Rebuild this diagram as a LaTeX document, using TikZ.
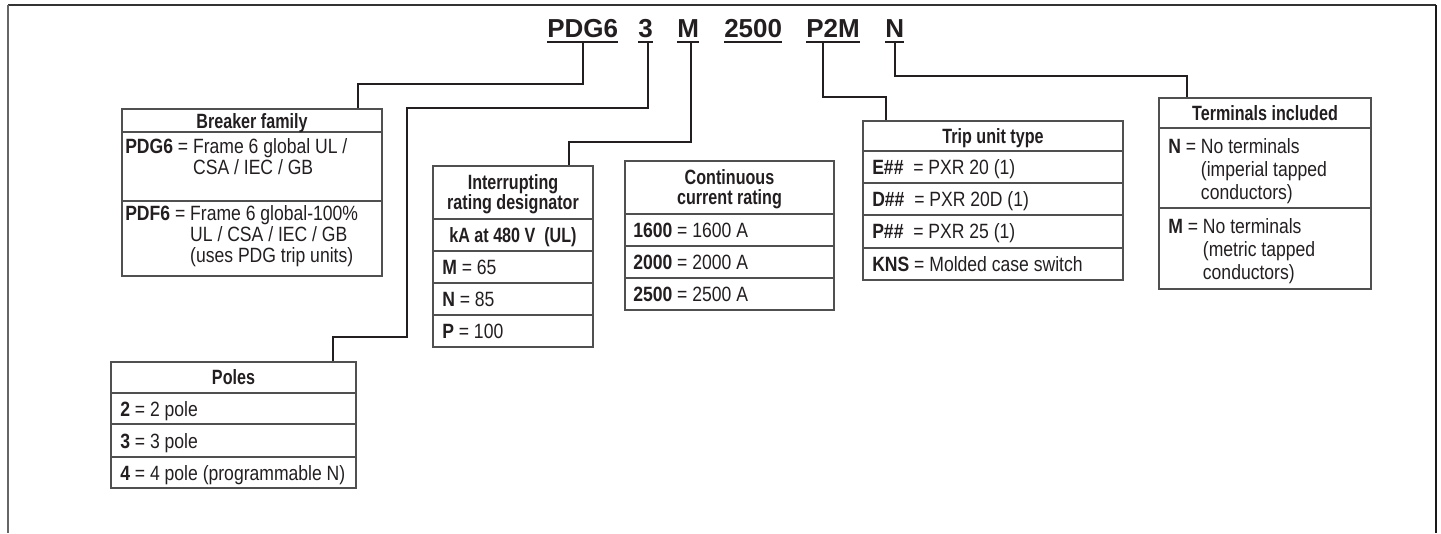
\documentclass[tikz,border=0pt]{standalone}
\usepackage{fontspec}
\setmainfont{Liberation Sans}[FakeStretch=0.85]
\newfontfamily\ttlfont{Liberation Sans}[FakeStretch=0.78]
\newfontfamily\codefont{Liberation Sans}
\usetikzlibrary{calc,fit}
\definecolor{ink}{HTML}{231F20}
\definecolor{boxline}{HTML}{505050}
\begin{document}
\begin{tikzpicture}[x=0.75pt,y=-0.75pt,
  font=\fontsize{15.5}{15.75}\selectfont,
  conn/.style={draw=ink, line width=1.1pt},
  uline/.style={draw=ink, line width=1.6pt},
  boxf/.style={draw=boxline, line width=0.9pt, inner sep=0pt},
  sepl/.style={draw=boxline, line width=0.9pt},
  txt/.style={inner sep=0pt, text=ink, anchor=base west},
  ttl/.style={inner sep=0pt, text=ink, anchor=base, font=\ttlfont\fontsize{15.5}{15.75}\selectfont\bfseries},
  code/.style={inner sep=0pt, anchor=base west, text=ink, font=\codefont\fontsize{19.5}{22}\selectfont\bfseries}]
\useasboundingbox (0,0) rectangle (1441,533);
% frame
\draw[line width=1.2pt, draw=black!80] (8,5) -- (1436,5);
\draw[line width=1.6pt, draw=black!60] (8,5) -- (8,533);
\draw[line width=1.4pt, draw=black!90] (1436,5) -- (1436,533);
% header code
\node[code] (hPDG) at (547,37) {PDG6};
\node[code] (h3) at (638,37) {3};
\node[code] (hM) at (677,37) {M};
\node[code] (h2500) at (724,37) {2500};
\node[code] (hP2M) at (806,37) {P2M};
\node[code] (hN) at (885,37) {N};
\foreach \n in {hPDG,h3,hM,h2500,hP2M,hN}
  \draw[uline] ($(\n.base west)+(0,5)$) -- ($(\n.base east)+(0,5)$);
% boxes
\node[boxf, fit={(122,109) (382,276)}] (fam) {};
\node[boxf, fit={(111,362) (356,488)}] (poles) {};
\node[boxf, fit={(433,166) (593,347)}] (intr) {};
\node[boxf, fit={(625,161) (834,310)}] (cont) {};
\node[boxf, fit={(863,121) (1123,280)}] (trip) {};
\node[boxf, fit={(1159,98) (1371,289)}] (term) {};
% separators
\foreach \y in {132,201} \draw[sepl] (122,\y) -- (382,\y);
\foreach \y in {393,424,457} \draw[sepl] (111,\y) -- (356,\y);
\foreach \y in {219,251,283,315} \draw[sepl] (433,\y) -- (593,\y);
\foreach \y in {214,246,278} \draw[sepl] (625,\y) -- (834,\y);
\foreach \y in {151,183,215,248} \draw[sepl] (863,\y) -- (1123,\y);
\foreach \y in {128,208} \draw[sepl] (1159,\y) -- (1371,\y);
% connectors
\coordinate (kPDG) at (358,84);
\draw[conn] ($(hPDG.base west)+(36,5)$) |- (kPDG) -- (kPDG |- fam.north);
\coordinate (k3a) at (407,108);
\coordinate (k3b) at (333,337);
\draw[conn] ($(h3.base west)+(10,5)$) |- (k3a) |- (k3b) -- (k3b |- poles.north);
\coordinate (kM) at (569,142);
\draw[conn] ($(hM.base west)+(14,5)$) |- (kM) -- (kM |- intr.north);
\draw[conn] ($(h2500.base west)+(28,5)$) -- ($(h2500.base west)+(28,5)$ |- cont.north);
\coordinate (kP) at (886,97);
\draw[conn] ($(hP2M.base west)+(17,5)$) |- (kP) -- (kP |- trip.north);
\coordinate (kN) at (1187,76);
\draw[conn] ($(hN.base west)+(10,5)$) |- (kN) -- (kN |- term.north);
% Breaker family
\node[ttl] (famT) at (252,128) {Breaker family};
\node[txt] (fam1) at (125,153) {\textbf{PDG6} = \begin{tabular}[t]{@{}l@{}}Frame 6 global UL /\\CSA / IEC / GB\end{tabular}};
\node[txt] (fam2) at (125,220) {\textbf{PDF6} = \begin{tabular}[t]{@{}l@{}}Frame 6 global-100\%\\UL / CSA / IEC / GB\\(uses PDG trip units)\end{tabular}};
% Poles
\node[ttl] (polT) at (233.5,384.5) {Poles};
\node[txt] (pol2) at (120,416) {\textbf{2} = 2 pole};
\node[txt] (pol3) at (120,448) {\textbf{3} = 3 pole};
\node[txt] (pol4) at (120,480) {\textbf{4} = 4 pole (programmable N)};
% Interrupting
\node[ttl] (intT1) at (513,189.7) {Interrupting};
\node[ttl] (intT2) at (513,209.7) {rating designator};
\node[ttl] (intK) at (513,242) {kA at 480 V\ \ (UL)};
\node[txt] (intM) at (442,274) {\textbf{M} = 65};
\node[txt] (intN) at (442,306) {\textbf{N} = 85};
\node[txt] (intP) at (442,338) {\textbf{P} = 100};
% Continuous
\node[ttl] (conT1) at (729.5,184.7) {Continuous};
\node[ttl] (conT2) at (729.5,204.7) {current rating};
\node[txt] (con1) at (633,237) {\textbf{1600} = 1600 A};
\node[txt] (con2) at (633,269) {\textbf{2000} = 2000 A};
\node[txt] (con3) at (633,301) {\textbf{2500} = 2500 A};
% Trip unit
\node[ttl] (triT) at (993,143) {Trip unit type};
\node[txt] (triE) at (872,174) {\textbf{E\#\#}\ \ = PXR 20 (1)};
\node[txt] (triD) at (872,206) {\textbf{D\#\#}\ \ = PXR 20D (1)};
\node[txt] (triP) at (872,238.5) {\textbf{P\#\#}\ \ = PXR 25 (1)};
\node[txt] (triK) at (872,271) {\textbf{KNS} = Molded case switch};
% Terminals
\node[ttl] (terT) at (1265,120) {Terminals included};
\node[txt, font=\fontsize{15.5}{17.6}\selectfont] (terN) at (1168,153) {\textbf{N} = \begin{tabular}[t]{@{}l@{}}No terminals\\(imperial tapped\\conductors)\end{tabular}};
\node[txt, font=\fontsize{15.5}{17.6}\selectfont] (terM) at (1168,233) {\textbf{M} = \begin{tabular}[t]{@{}l@{}}No terminals\\(metric tapped\\conductors)\end{tabular}};
\end{tikzpicture}
\end{document}
